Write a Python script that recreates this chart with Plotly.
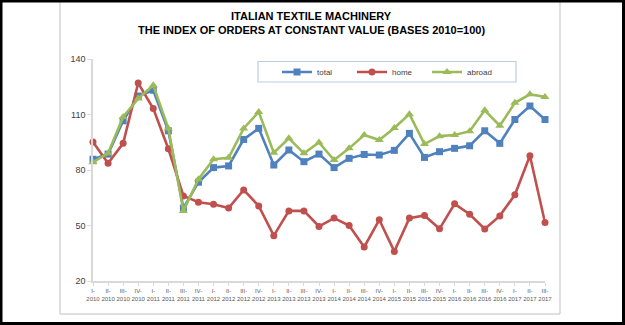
import plotly.graph_objects as go

# Quarterly index of orders at constant value (2010 = 100)
quarters = [
    "I-<br>2010", "II-<br>2010", "III-<br>2010", "IV-<br>2010",
    "I-<br>2011", "II-<br>2011", "III-<br>2011", "IV-<br>2011",
    "I-<br>2012", "II-<br>2012", "III-<br>2012", "IV-<br>2012",
    "I-<br>2013", "II-<br>2013", "III-<br>2013", "IV-<br>2013",
    "I-<br>2014", "II-<br>2014", "III-<br>2014", "IV-<br>2014",
    "I-<br>2015", "II-<br>2015", "III-<br>2015", "IV-<br>2015",
    "I-<br>2016", "II-<br>2016", "III-<br>2016", "IV-<br>2016",
    "I-<br>2017", "II-<br>2017", "III-<br>2017",
]

total = [85.8, 88.6, 106.6, 120.0, 123.1, 101.2, 59.4, 73.4, 81.3, 82.2,
         96.5, 102.5, 82.7, 90.8, 84.5, 88.6, 81.3, 86.3, 88.4, 88.1,
         90.6, 99.8, 86.8, 89.9, 91.7, 93.1, 101.2, 94.4, 107.3, 114.6, 107.3]

home = [95.1, 83.6, 94.4, 127.0, 113.2, 91.5, 66.0, 62.6, 61.5, 59.4,
        69.2, 60.6, 44.5, 57.9, 57.9, 49.5, 54.0, 50.0, 38.4, 53.1,
        36.0, 54.0, 55.4, 48.2, 61.7, 56.1, 48.1, 55.2, 66.6, 87.7, 51.6]

abroad = [84.2, 89.0, 108.7, 118.6, 125.8, 102.5, 57.9, 75.0, 85.8, 86.6,
          102.5, 111.4, 89.3, 97.1, 89.0, 94.9, 85.4, 91.7, 98.9, 96.2,
          102.7, 110.2, 94.0, 98.3, 98.9, 101.0, 112.3, 103.9, 116.3, 120.9, 119.5]

y_ticks = [20, 50, 80, 110, 140]

series = [
    ("total", total, "#4F81BD", "square", 7),
    ("home", home, "#C0504D", "circle", 7),
    ("abroad", abroad, "#9BBB59", "triangle-up", 8),
]

W, H = 625, 325
L, R, T, B = 93, 80, 59, 44
PW, PH = W - L - R, H - T - B


def px(x):
    return (x - L) / PW


def py(y):
    return (H - B - y) / PH


fig = go.Figure()
for name, vals, color, symbol, size in series:
    fig.add_trace(go.Scatter(
        x=quarters, y=vals, name=name, mode="lines+markers",
        line=dict(color=color, width=2.6),
        marker=dict(symbol=symbol, size=size, color=color),
        cliponaxis=False,
    ))

fig.update_layout(
    width=W, height=H,
    margin=dict(l=L, r=R, t=T, b=B),
    paper_bgcolor="white", plot_bgcolor="white",
    font=dict(family="Liberation Sans, Arial, sans-serif", color="#404040"),
    showlegend=True,
    legend=dict(
        orientation="h", x=px(277), y=py(72), xanchor="left", yanchor="middle",
        font=dict(size=8, color="#404040"), itemwidth=30,
        entrywidth=30, entrywidthmode="pixels",
        bgcolor="rgba(0,0,0,0)", borderwidth=0,
    ),
    xaxis=dict(
        type="category", range=[0, len(quarters) - 1],
        showline=True, linecolor="#d9d9d9", linewidth=1.5,
        ticks="outside", ticklen=3, tickcolor="#d9d9d9",
        showgrid=False, zeroline=False,
        tickfont=dict(size=6, color="#595959"), tickangle=0,
    ),
    yaxis=dict(
        range=[20, 140], tickvals=y_ticks,
        showline=True, linecolor="#d9d9d9", linewidth=1.5,
        ticks="outside", ticklen=4, tickcolor="#d9d9d9",
        showgrid=False, zeroline=False,
        tickfont=dict(size=9, color="#404040"),
    ),
    annotations=[
        dict(text="<b>ITALIAN TEXTILE MACHINERY</b>", x=px(311), y=py(16),
             xref="paper", yref="paper", xanchor="center", yanchor="middle",
             showarrow=False, font=dict(size=11, color="#000000")),
        dict(text="<b>THE INDEX OF ORDERS AT CONSTANT VALUE (BASES 2010=100)</b>",
             x=px(311), y=py(30), xref="paper", yref="paper",
             xanchor="center", yanchor="middle",
             showarrow=False, font=dict(size=11, color="#000000")),
    ],
    shapes=[
        # chart area frame
        dict(type="rect", xref="paper", yref="paper",
             x0=px(60), x1=px(560), y0=py(314), y1=py(-2),
             line=dict(color="#bfbfbf", width=1), layer="below"),
        # legend frame
        dict(type="rect", xref="paper", yref="paper",
             x0=px(258), x1=px(516), y0=py(82), y1=py(61.5),
             line=dict(color="#b9cde5", width=1.2), layer="below"),
        # outer border
        dict(type="rect", xref="paper", yref="paper",
             x0=px(1), x1=px(623.5), y0=py(323.5), y1=py(1),
             line=dict(color="#000000", width=3)),
    ],
)

fig.write_html("out.html")
